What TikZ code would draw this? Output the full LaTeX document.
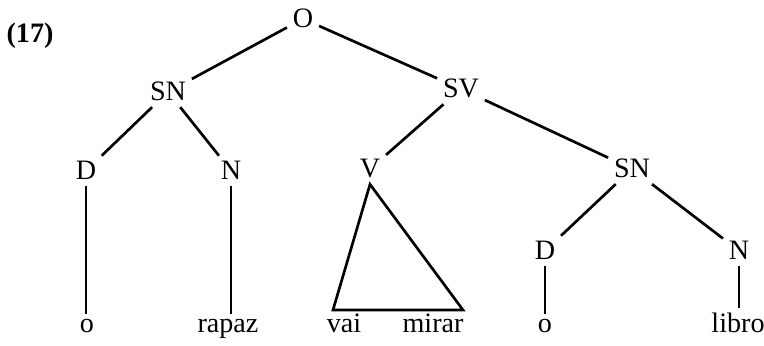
\documentclass[tikz,border=0pt]{standalone}
\usepackage{fontspec}
\setmainfont{Liberation Serif}
\usepackage{tikz}
\usetikzlibrary{positioning, calc}
\tikzset{
	cat/.style  ={anchor=base, inner sep=4pt, font=\fontsize{20}{24}\selectfont},
	word/.style ={anchor=base, inner sep=4pt, font=\fontsize{20}{24}\selectfont},
	exnum/.style={font=\fontsize{20}{24}\selectfont\bfseries},
	branch/.style={line width=1.9pt},
}

\begin{document}
\begin{tikzpicture}[x=0.025cm, y=-0.025cm]
	\useasboundingbox (0,0) rectangle (764,346);
	\node[exnum] (num) at (30,36) {(17)};
	\node[cat] (o) at (303,28) {O};
	\node[cat] (sn1) at (168,101) {SN};
	\node[cat] (sv) at (461,98) {SV};
	\node[cat] (d1) at (86,180) {D};
	\node[cat] (n1) at (231,180) {N};
	\node[cat] (v) at (370,178) {V};
	\node[cat] (sn2) at (632,178) {SN};
	\node[cat] (d2) at (545,260) {D};
	\node[cat] (n2) at (739,260) {N};
	\node[word] (w1) at (87,333) {o};
	\node[word] (w2) at (228,333) {rapaz};
	\node[word] (w3) at (344,333) {vai};
	\node[word] (w4) at (433,333) {mirar};
	\node[word] (w5) at (545,333) {o};
	\node[word] (w6) at (738,333) {libro};
	\coordinate (tl) at (333,310);
	\coordinate (tr) at (463,310);
	\draw[branch] (o) -- (sn1); \draw[branch] (o) -- (sv);
	\draw[branch] (sn1) -- (d1); \draw[branch] (sn1) -- (n1);
	\draw[branch] (sv) -- (v); \draw[branch] (sv) -- (sn2);
	\draw[branch] (sn2) -- (d2); \draw[branch] (sn2) -- (n2);
	\draw[branch] (d1.south) -- (d1.south |- w1.north);
	\draw[branch] (n1.south) -- (n1.south |- w2.north);
	\draw[branch] (d2.south) -- (d2.south |- w5.north);
	\draw[branch] (n2.south) -- (n2.south |- w6.north);
	\draw[branch, line join=miter] (v.south) -- (tl) -- (tr) -- cycle;
\end{tikzpicture}
\end{document}
